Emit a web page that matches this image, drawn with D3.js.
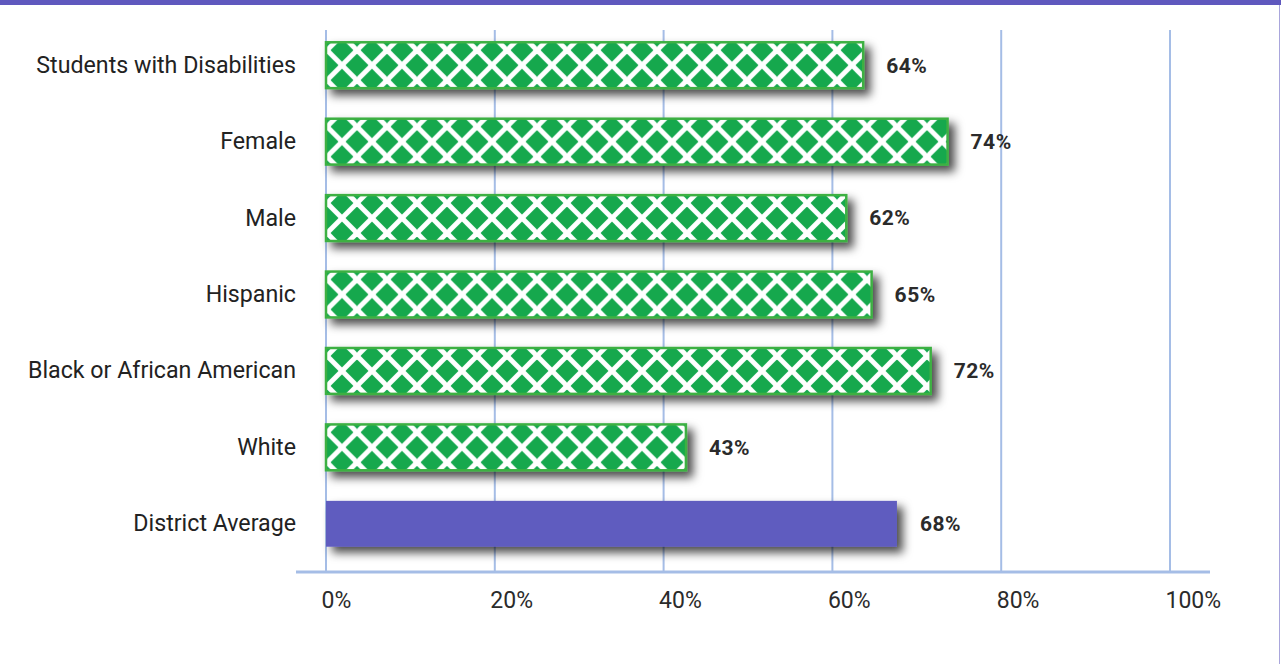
<!DOCTYPE html>
<html><head><meta charset="utf-8">
<script src="https://cdn.jsdelivr.net/npm/d3@7"></script>
<style>body{margin:0;background:#fff}svg{display:block}</style>
</head><body>
<script>
const categories = ["Students with Disabilities","Female","Male","Hispanic","Black or African American","White","District Average"];
const values = [64,74,62,65,72,43,68];
const tickValues = [0,20,40,60,80,100];
const tickLabels = ["0%","20%","40%","60%","80%","100%"];

const W=1281,H=664;
const svg=d3.select("body").append("svg").attr("width",W).attr("height",H);
const defs=svg.append("defs");
const f=defs.append("filter").attr("id","sh").attr("x","-10%").attr("y","-60%").attr("width","130%").attr("height","270%");
f.append("feDropShadow").attr("dx",6).attr("dy",6).attr("stdDeviation",5).attr("flood-color","#000").attr("flood-opacity",0.7);

// frame
svg.append("rect").attr("x",0).attr("y",0).attr("width",W).attr("height",5).attr("fill","#5f58be");
svg.append("line").attr("x1",1279.5).attr("x2",1279.5).attr("y1",5).attr("y2",H).attr("stroke","#a9a6dc").attr("stroke-width",1);

const x=d3.scaleLinear().domain([0,100]).range([326,1170]);
const y=d3.scaleBand().domain(categories).range([27,562]).paddingInner(0.4).paddingOuter(0.2);

// gridlines
svg.append("g").selectAll("line").data(tickValues).join("line")
  .attr("x1",d=>x(d)).attr("x2",d=>x(d)).attr("y1",30).attr("y2",572)
  .attr("stroke","#a5bde6").attr("stroke-width",2);
svg.append("line").attr("x1",296).attr("x2",1210).attr("y1",572).attr("y2",572)
  .attr("stroke","#a5bde6").attr("stroke-width",3);

// axis labels
const xa=d3.axisBottom(x).tickValues(tickValues).tickFormat((d,i)=>tickLabels[i]).tickSize(0).tickPadding(0);
const gx=svg.append("g").attr("transform","translate(0,608)").call(xa);
gx.select(".domain").remove();
gx.selectAll("text").attr("font-family","Roboto, sans-serif").attr("font-size",23).attr("fill","#2b2b2b")
  .attr("dy",0).attr("text-anchor","start").attr("x",-5);

const ya=d3.axisLeft(y).tickSize(0).tickPadding(0);
const gy=svg.append("g").attr("transform","translate(296,0)").call(ya);
gy.select(".domain").remove();
gy.selectAll("text").attr("font-family","Roboto, sans-serif").attr("font-size",23.2).attr("fill","#222");

// patterns
categories.forEach((c,i)=>{
  const cy=y(c)+y.bandwidth()/2;
  const p=defs.append("pattern").attr("id","pat"+i).attr("patternUnits","userSpaceOnUse")
    .attr("width",30).attr("height",30).attr("x",x(0)+1).attr("y",cy-15);
  p.append("rect").attr("width",30).attr("height",30).attr("fill","#12a84e");
  const lines=[[0,0,30,30],[0,30,30,0],[-15,15,15,-15],[15,45,45,15],[-15,15,15,45],[15,-15,45,15]];
  lines.forEach(l=>p.append("line").attr("x1",l[0]).attr("y1",l[1]).attr("x2",l[2]).attr("y2",l[3])
    .attr("stroke","#fff").attr("stroke-width",5));
});

const bars=svg.append("g");
categories.forEach((c,i)=>{
  const isAvg = c==="District Average";
  bars.append("rect").attr("x",x(0)).attr("y",y(c)).attr("width",x(values[i])-x(0)-3).attr("height",y.bandwidth())
    .attr("fill",isAvg?"#5f5bbf":"url(#pat"+i+")")
    .attr("stroke",isAvg?"none":"#3cb043").attr("stroke-width",2.5)
    .attr("filter","url(#sh)");
  svg.append("text").attr("x",x(values[i])+20).attr("y",y(c)+y.bandwidth()/2).attr("dy","0.35em")
    .attr("font-family","Roboto, sans-serif").attr("font-weight","bold").attr("font-size",21).attr("letter-spacing",0.5).attr("fill","#2b2b2b")
    .text(values[i]+"%");
});
</script>
</body></html>
